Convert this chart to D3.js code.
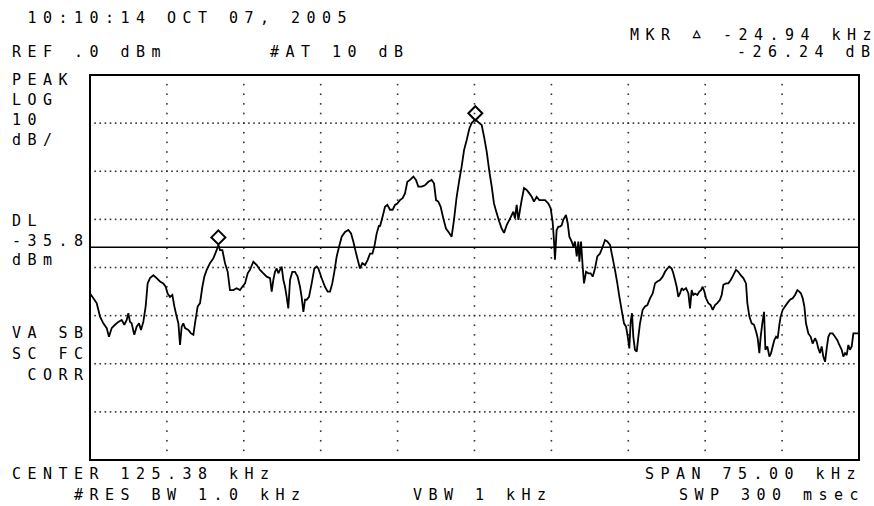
<!DOCTYPE html>
<html>
<head>
<meta charset="utf-8">
<script src="https://cdn.jsdelivr.net/npm/d3@7"></script>
<style>
  html, body { margin: 0; padding: 0; background: #fff; }
  svg { display: block; }
  text { font-family: "DejaVu Sans Mono", monospace; font-size: 15px; fill: #000; white-space: pre; }
</style>
</head>
<body>
<svg id="chart" width="874" height="506"></svg>
<script>
// ---- instrument settings ----
const centerFreq = 125.38;   // kHz
const spanKHz = 75.0;        // kHz
const refLevel = 0;          // dBm
const dbPerDiv = 10;
const xDivisions = 10;
const yDivisions = 8;
const displayLine = -35.8;   // dBm

// ---- texts ----
const titleText = "10:10:14 OCT 07, 2005";
const refText = "REF .0 dBm";
const attenText = "#AT 10 dB";
const markerParts = ["MKR", "\u25B5", "-24.94 kHz"];
const markerDeltaText = "-26.24 dB";
const sideTop = ["PEAK", "LOG", "10", "dB/"];
const sideDL = ["DL", "-35.8", "dBm"];
const sideBottom = ["VA SB", "SC FC", " CORR"];
const footLeft = ["CENTER 125.38 kHz", "#RES BW 1.0 kHz"];
const footMid = "VBW 1 kHz";
const footRight = ["SPAN 75.00 kHz", "SWP 300 msec"];

// ---- trace (frequency kHz, level dBm) ----
const traceFreq = [
 87.88, 88.21, 88.53, 88.86, 89.18, 89.51, 89.73, 89.99, 90.32, 90.64,
 90.97, 91.23, 91.46, 91.62, 91.78, 91.94, 92.20, 92.43, 92.66, 92.85,
 93.08, 93.31, 93.50, 93.73, 94.06, 94.38, 94.71, 95.03, 95.26, 95.45,
 95.68, 95.91, 96.11, 96.33, 96.50, 96.66, 96.82, 96.98, 97.15, 97.47,
 97.73, 97.96, 98.12, 98.38, 98.61, 98.84, 99.03, 99.26, 99.58, 99.91,
 100.23, 100.40, 100.56, 100.79, 101.05, 101.31, 101.53, 101.86, 102.18, 102.51,
 102.74, 103.00, 103.26, 103.48, 103.81, 104.14, 104.46, 104.79, 105.11, 105.44,
 105.60, 105.76, 105.92, 106.09, 106.25, 106.41, 106.57, 106.74, 106.90, 107.06,
 107.22, 107.39, 107.61, 107.87, 108.13, 108.36, 108.52, 108.69, 108.85, 109.01,
 109.24, 109.50, 109.76, 109.99, 110.15, 110.31, 110.54, 110.80, 111.06, 111.29,
 111.51, 111.71, 111.94, 112.17, 112.43, 112.75, 113.08, 113.34, 113.56, 113.79,
 113.99, 114.21, 114.44, 114.70, 114.96, 115.19, 115.42, 115.61, 115.84, 116.07,
 116.16, 116.42, 116.65, 116.88, 117.14, 117.40, 117.63, 117.85, 118.11, 118.37,
 118.60, 118.83, 119.09, 119.42, 119.67, 119.90, 120.23, 120.55, 120.88, 121.20,
 121.43, 121.63, 121.85, 122.08, 122.34, 122.60, 122.93, 123.15, 123.38, 123.64,
 123.90, 124.13, 124.36, 124.62, 124.88, 125.10, 125.33, 125.59, 125.85, 126.08,
 126.31, 126.57, 126.83, 127.06, 127.28, 127.54, 127.80, 128.03, 128.26, 128.52,
 128.78, 129.01, 129.17, 129.33, 129.49, 129.66, 129.82, 129.98, 130.21, 130.47,
 130.73, 130.96, 131.18, 131.44, 131.70, 131.93, 132.26, 132.58, 132.81, 133.00,
 133.13, 133.23, 133.39, 133.56, 133.72, 133.88, 134.04, 134.30, 134.47, 134.63,
 134.86, 135.02, 135.18, 135.35, 135.51, 135.61, 135.77, 135.93, 136.06, 136.26,
 136.48, 136.71, 136.91, 137.13, 137.36, 137.62, 137.88, 138.11, 138.33, 138.60,
 138.86, 139.08, 139.31, 139.51, 139.73, 139.96, 140.16, 140.35, 140.48, 140.61,
 140.74, 140.87, 141.03, 141.20, 141.36,
 141.52, 141.78, 142.01, 142.24, 142.50, 142.76, 142.99, 143.21, 143.47, 143.73,
 143.96, 144.19, 144.38, 144.61, 144.77, 144.94, 145.10, 145.26, 145.42, 145.59,
 145.75, 146.01, 146.24, 146.40, 146.56, 146.72, 146.89, 147.11, 147.31, 147.47,
 147.63, 147.80, 147.96, 148.19, 148.41, 148.61, 148.84, 149.06, 149.32, 149.49,
 149.65, 149.91, 150.14, 150.37, 150.62, 150.88, 151.11, 151.34, 151.60, 151.86,
 151.99, 152.19, 152.41, 152.64, 152.84, 153.00, 153.16, 153.29, 153.45, 153.62,
 153.75, 153.94, 154.14, 154.30, 154.46, 154.62, 154.79, 154.95, 155.11, 155.24,
 155.44, 155.66, 155.89, 156.15, 156.41, 156.64, 156.87, 157.06, 157.22, 157.39,
 157.55, 157.71, 157.94, 158.17, 158.36, 158.59, 158.75, 158.91, 159.08, 159.24,
 159.40, 159.57, 159.73, 159.89, 160.05, 160.31, 160.54, 160.77, 160.96, 161.19,
 161.35, 161.52, 161.68, 161.84, 162.00, 162.17, 162.33, 162.59, 162.88
];
const traceLevel = [
 -45.4, -46.4, -47.4, -50.2, -51.6, -52.6, -54.4, -52.6, -51.9, -51.3,
 -50.9, -51.9, -50.9, -49.5, -51.3, -51.6, -54.0, -52.3, -51.6, -53.0,
 -51.3, -48.1, -43.3, -42.2, -41.6, -42.2, -42.9, -43.3, -44.0, -45.4,
 -46.1, -45.7, -48.1, -50.2, -51.6, -56.1, -52.3, -51.6, -52.6, -53.0,
 -53.7, -54.0, -51.6, -48.1, -47.4, -44.0, -41.9, -40.5, -39.1, -38.1,
 -36.4, -35.3, -36.4, -36.4, -39.1, -40.9, -44.7, -44.7, -44.3, -44.7,
 -44.0, -43.3, -41.2, -40.5, -38.8, -39.5, -40.5, -41.2, -41.9, -42.2,
 -45.0, -42.6, -40.9, -40.2, -41.2, -40.5, -39.8, -42.6, -44.0, -46.1,
 -48.5, -42.6, -40.9, -40.9, -41.9, -44.0, -46.1, -49.2, -46.7, -46.7,
 -46.1, -43.3, -40.2, -39.8, -40.2, -41.2, -42.6, -44.0, -45.0, -45.0,
 -43.3, -40.9, -37.7, -35.7, -33.6, -32.6, -32.2, -32.9, -34.6, -36.7,
 -38.4, -40.2, -39.1, -39.5, -38.4, -37.1, -37.1, -35.7, -32.9, -31.2,
 -31.5, -29.4, -27.4, -27.0, -28.0, -28.0, -27.0, -26.7, -26.0, -25.6,
 -24.6, -22.2, -21.8, -21.1, -21.8, -23.2, -23.2, -22.9, -22.2, -21.8,
 -22.5, -26.0, -26.3, -27.4, -29.8, -31.9, -32.9, -33.6, -30.1, -25.3,
 -21.8, -19.0, -15.6, -13.5, -11.1, -10.0, -9.5, -9.5, -10.0, -10.4,
 -12.8, -15.9, -20.1, -23.2, -26.7, -28.7, -30.5, -31.9, -32.8, -31.2,
 -30.1, -29.1, -28.4, -29.8, -27.0, -30.1, -28.0, -26.0, -23.5, -23.9,
 -24.6, -25.3, -26.3, -25.3, -26.0, -26.0, -26.0, -26.7, -27.7, -30.5,
 -34.3, -38.4, -32.2, -31.5, -31.5, -31.2, -30.1, -29.1, -30.8, -33.6,
 -34.6, -35.7, -34.6, -37.7, -34.6, -38.8, -34.6, -39.8, -43.3, -40.9,
 -41.2, -41.2, -41.9, -40.2, -37.7, -37.1, -35.7, -34.3, -34.6, -35.3,
 -38.1, -40.5, -43.3, -46.1, -48.8, -51.6, -52.3, -54.7, -56.8, -51.3,
 -49.5, -54.4, -57.1, -57.5, -54.4,
 -51.6, -48.8, -48.1, -47.8, -46.4, -45.4, -43.3, -42.9, -42.6, -41.9,
 -40.9, -40.2, -39.8, -40.2, -41.2, -42.6, -44.0, -46.1, -45.4, -44.3,
 -44.7, -44.3, -45.4, -48.5, -44.7, -45.7, -45.4, -45.7, -45.0, -44.7,
 -44.0, -45.0, -46.4, -47.4, -47.8, -48.8, -47.8, -47.4, -46.7, -45.7,
 -43.6, -43.3, -43.3, -42.6, -41.6, -40.5, -40.9, -41.6, -42.2, -43.3,
 -47.4, -50.2, -51.6, -51.9, -53.3, -54.7, -57.8, -54.4, -51.6, -49.2,
 -57.1, -56.4, -58.5, -57.8, -56.4, -55.1, -54.4, -54.7, -51.9, -50.2,
 -48.8, -48.1, -47.4, -46.7, -46.4, -45.7, -44.7, -45.0, -45.4, -46.4,
 -48.1, -51.6, -53.7, -54.4, -55.8, -54.7, -55.4, -56.8, -57.8, -56.4,
 -58.5, -59.6, -56.8, -54.4, -53.7, -53.7, -54.4, -55.1, -56.1, -57.1,
 -58.5, -57.8, -58.2, -56.1, -57.1, -56.4, -53.7, -53.7, -53.7
];

// ---- markers (frequency kHz, level dBm) ----
const markerFreq = [125.46, 100.40];
const markerLevel = [-9.5, -35.3];

// ---- drawing ----
const svg = d3.select("#chart");
const frame = { left: 90, right: 859, top: 75, bottom: 460 };
const startFreq = centerFreq - spanKHz / 2;
const stopFreq = centerFreq + spanKHz / 2;
const bottomLevel = refLevel - dbPerDiv * yDivisions;

const x = d3.scaleLinear().domain([startFreq, stopFreq]).range([frame.left, frame.right]);
const y = d3.scaleLinear().domain([bottomLevel, refLevel]).range([frame.bottom, frame.top]);

// dotted graticule
const xGrid = d3.range(1, xDivisions).map(i => startFreq + i * spanKHz / xDivisions);
const yGrid = d3.range(1, yDivisions).map(i => refLevel - i * dbPerDiv);
const hDotsPerDiv = 15, vDotsPerDiv = 5;
const hDots = [], vDots = [];
yGrid.forEach(lv => {
  const n = xDivisions * hDotsPerDiv;
  for (let k = 1; k < n; k++) hDots.push([startFreq + k * spanKHz / n, lv]);
});
xGrid.forEach(f => {
  const n = yDivisions * vDotsPerDiv;
  for (let k = 1; k < n; k++) vDots.push([f, refLevel - k * dbPerDiv * yDivisions / n]);
});
svg.append("g").selectAll("rect").data(hDots.concat(vDots)).join("rect")
  .attr("x", d => x(d[0]) - 0.8).attr("y", d => y(d[1]) - 0.8)
  .attr("width", 1.6).attr("height", 1.6).attr("fill", "#333");

// display line
svg.append("line")
  .attr("x1", frame.left).attr("x2", frame.right)
  .attr("y1", y(displayLine)).attr("y2", y(displayLine))
  .attr("stroke", "#000").attr("stroke-width", 1.6);

// trace
const traceData = traceFreq.map((f, i) => [f, traceLevel[i]]);
svg.append("path").datum(traceData)
  .attr("fill", "none").attr("stroke", "#000").attr("stroke-width", 1.8)
  .attr("stroke-linejoin", "miter").attr("stroke-miterlimit", 2)
  .attr("d", d3.line().x(d => x(d[0])).y(d => y(d[1])));

// markers (diamond sitting on trace)
const dr = 7;
svg.append("g").selectAll("path").data(markerFreq.map((f, i) => [f, markerLevel[i]])).join("path")
  .attr("fill", "none").attr("stroke", "#000").attr("stroke-width", 2)
  .attr("d", d => {
    const cx = x(d[0]), cy = y(d[1]) - dr - 0.5;
    return `M${cx},${cy - dr}L${cx + dr},${cy}L${cx},${cy + dr}L${cx - dr},${cy}Z`;
  });

// frame
svg.append("rect")
  .attr("x", frame.left).attr("y", frame.top)
  .attr("width", frame.right - frame.left).attr("height", frame.bottom - frame.top)
  .attr("fill", "none").attr("stroke", "#000").attr("stroke-width", 2);

// texts on a fixed character pitch
const pitch = 15.5, glyphAdv = 9.03;
function label(str, px, py) {
  const n = str.length;
  const t = svg.append("text").attr("x", px).attr("y", py).text(str);
  if (n > 1) t.attr("textLength", (n - 1) * pitch + glyphAdv).attr("lengthAdjust", "spacing");
  return t;
}
label(titleText, 27.5, 23);
label(markerParts[0], 630, 40);
label(markerParts[1], 630 + 4 * pitch - 2, 40).style("font-size", "22px");
label(markerParts[2], 630 + 6 * pitch, 40);
label(refText, 12, 57);
label(attenText, 270, 57);
label(markerDeltaText, 737, 57);
sideTop.forEach((s, i) => label(s, 12, [85, 105, 125, 145][i]));
sideDL.forEach((s, i) => label(s, 12, [226, 246, 265][i]));
sideBottom.forEach((s, i) => label(s, 12, [338, 359, 380][i]));
label(footLeft[0], 12, 479);
label(footLeft[1], 74, 500);
label(footMid, 413, 500);
label(footRight[0], 645, 479);
label(footRight[1], 679, 500);
</script>
</body>
</html>
